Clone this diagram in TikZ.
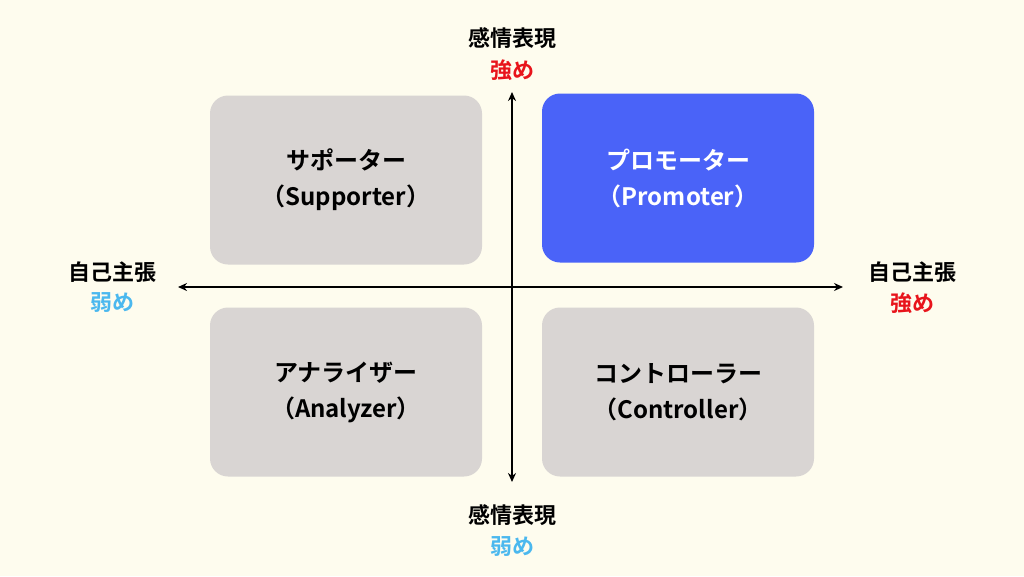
\documentclass[tikz,border=0pt]{standalone}
\usetikzlibrary{arrows.meta}
\usepackage{fontspec}
\setmainfont{Noto Sans CJK JP}[BoldFont={* Bold}]
\definecolor{bg}{HTML}{FEFCEE}
\definecolor{boxg}{HTML}{D9D5D3}
\definecolor{boxb}{HTML}{4A63F8}
\definecolor{redc}{HTML}{E8141B}
\definecolor{bluec}{HTML}{4BB8EE}
\begin{document}
\begin{tikzpicture}[x=1pt,y=-1pt,
  quad/.style={rounded corners=18pt,minimum width=272pt,minimum height=169pt,inner sep=0pt,align=center,font=\fontsize{24}{36}\selectfont\bfseries},
  lab/.style={font=\fontsize{22}{26}\selectfont\bfseries,inner sep=0pt},
  ax/.style={line width=1.6pt,{Stealth[length=9pt,width=8pt]}-{Stealth[length=9pt,width=8pt]}}]
\fill[bg] (0,0) rectangle (1024,576);
\node[quad,fill=boxg] (sup) at (346,180) {サポーター\\（Supporter）};
\node[quad,fill=boxb,text=white] (pro) at (678,178) {プロモーター\\（Promoter）};
\node[quad,fill=boxg] (ana) at (346,392) {アナライザー\\（Analyzer）};
\node[quad,fill=boxg] (con) at (678,392) {コントローラー\\（Controller）};
\coordinate (top) at (512,92);
\coordinate (bot) at (512,482);
\coordinate (lft) at (178,287);
\coordinate (rgt) at (843,287);
\draw[ax] (top) -- (bot);
\draw[ax] (lft) -- (rgt);
\node[lab] (t1) at (512,38) {感情表現};
\node[lab,text=redc] (t2) at (512,70) {強め};
\node[lab] (b1) at (512,515) {感情表現};
\node[lab,text=bluec] (b2) at (512,547) {弱め};
\node[lab] (l1) at (112,272) {自己主張};
\node[lab,text=bluec] (l2) at (112,303) {弱め};
\node[lab] (r1) at (912,272) {自己主張};
\node[lab,text=redc] (r2) at (912,303) {強め};
\end{tikzpicture}
\end{document}
